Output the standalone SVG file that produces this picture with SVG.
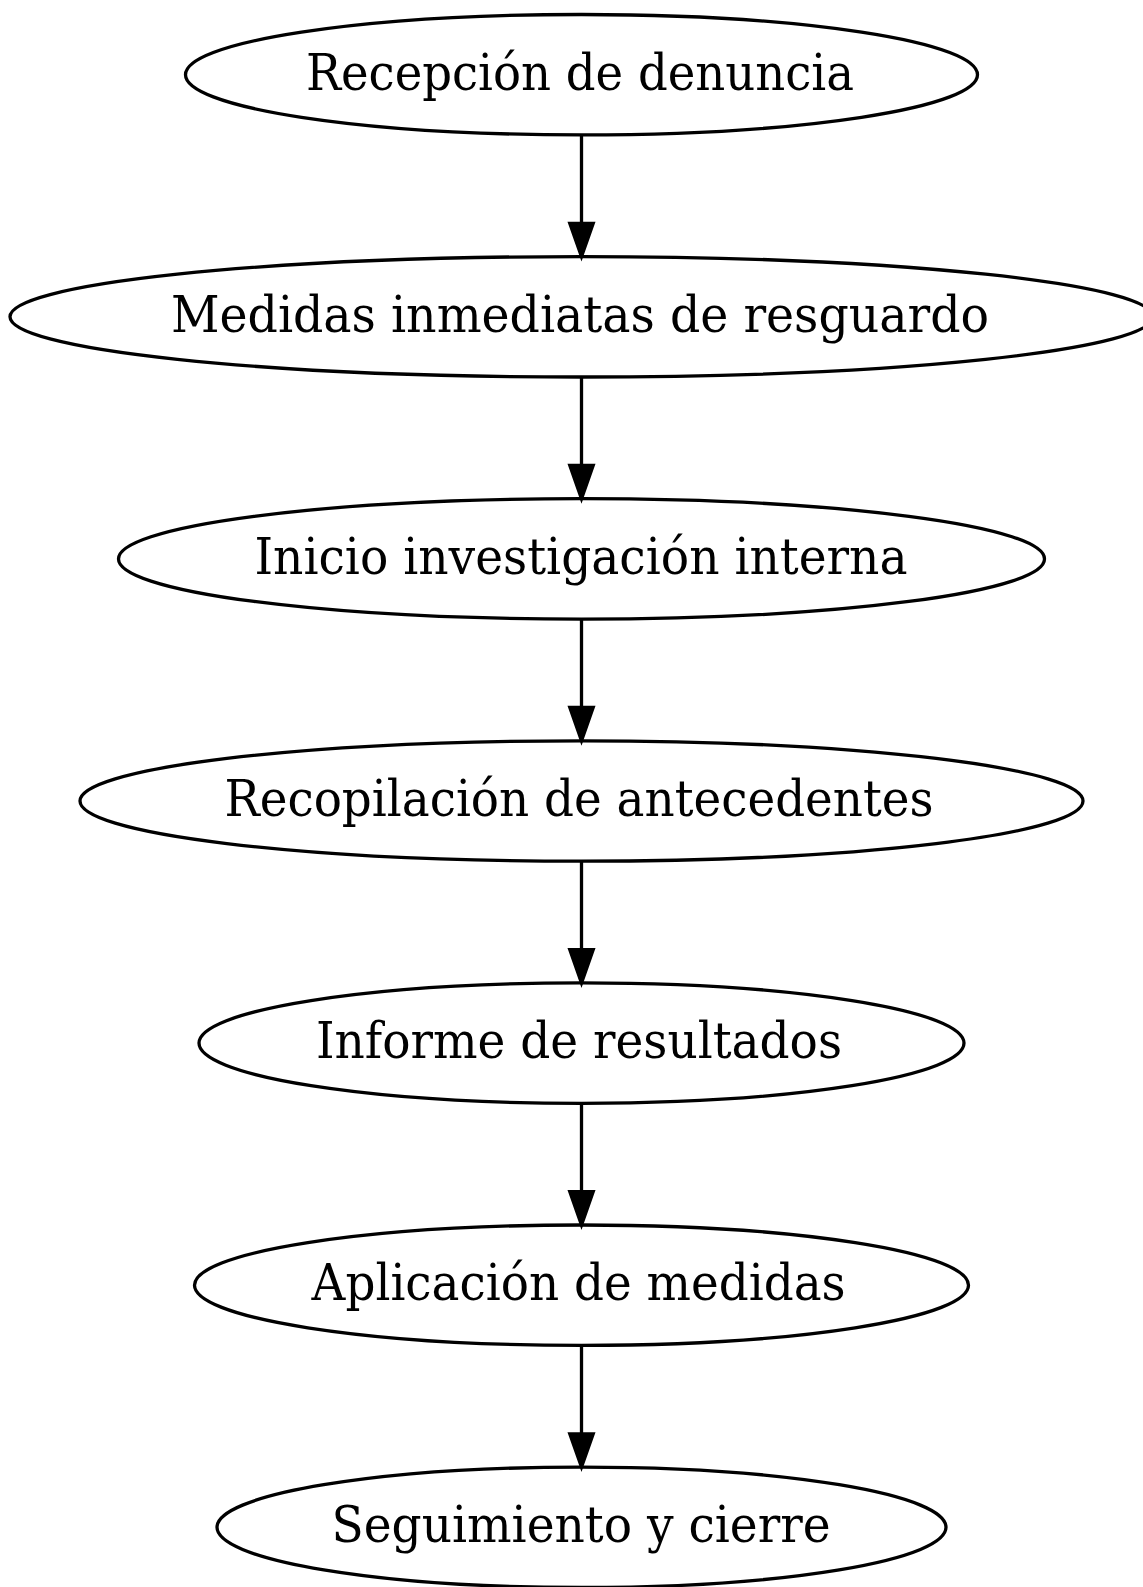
<svg xmlns="http://www.w3.org/2000/svg" width="1143" height="1587" viewBox="0 0 1143 1587">
<style>
.n ellipse{fill:none;stroke:#000;stroke-width:3.3}
.n text{font-family:"DejaVu Serif Condensed","DejaVu Serif",serif;font-stretch:condensed;font-size:50px;text-anchor:middle;fill:#000}
.e line{stroke:#000;stroke-width:3.3}
.e polygon{fill:#000;stroke:#000;stroke-width:3.3}
</style>
<rect width="1143" height="1587" fill="#fff"/>
<g id="n1" class="n"><ellipse cx="581.5" cy="74.7" rx="396" ry="60.2"/><text x="580" y="89.5" textLength="548" lengthAdjust="spacingAndGlyphs">Recepción de denuncia</text></g>
<g id="n2" class="n"><ellipse cx="581.5" cy="316.8" rx="571.5" ry="60.2"/><text x="580" y="331.6" textLength="818" lengthAdjust="spacingAndGlyphs">Medidas inmediatas de resguardo</text></g>
<g id="n3" class="n"><ellipse cx="581.5" cy="558.9" rx="463" ry="60.2"/><text x="581" y="573.7" textLength="653" lengthAdjust="spacingAndGlyphs">Inicio investigación interna</text></g>
<g id="n4" class="n"><ellipse cx="581.5" cy="801" rx="501.5" ry="60.2"/><text x="579" y="815.8" textLength="709" lengthAdjust="spacingAndGlyphs">Recopilación de antecedentes</text></g>
<g id="n5" class="n"><ellipse cx="581.5" cy="1043.1" rx="382.5" ry="60.2"/><text x="579" y="1057.9" textLength="526" lengthAdjust="spacingAndGlyphs">Informe de resultados</text></g>
<g id="n6" class="n"><ellipse cx="581.5" cy="1285.2" rx="387" ry="60.2"/><text x="578.6" y="1300" textLength="534" lengthAdjust="spacingAndGlyphs">Aplicación de medidas</text></g>
<g id="n7" class="n"><ellipse cx="581.5" cy="1527.3" rx="364.5" ry="60.2"/><text x="581" y="1542.1" textLength="499" lengthAdjust="spacingAndGlyphs">Seguimiento y cierre</text></g>
<g id="edges" class="e">
<line x1="581.5" y1="134.9" x2="581.5" y2="223.3"/><polygon points="569.8,223.3 593.2,223.3 581.5,256.6"/>
<line x1="581.5" y1="377" x2="581.5" y2="465.4"/><polygon points="569.8,465.4 593.2,465.4 581.5,498.7"/>
<line x1="581.5" y1="619.1" x2="581.5" y2="707.5"/><polygon points="569.8,707.5 593.2,707.5 581.5,740.8"/>
<line x1="581.5" y1="861.2" x2="581.5" y2="949.6"/><polygon points="569.8,949.6 593.2,949.6 581.5,982.9"/>
<line x1="581.5" y1="1103.3" x2="581.5" y2="1191.7"/><polygon points="569.8,1191.7 593.2,1191.7 581.5,1225"/>
<line x1="581.5" y1="1345.4" x2="581.5" y2="1433.8"/><polygon points="569.8,1433.8 593.2,1433.8 581.5,1467.1"/>
</g>
</svg>
